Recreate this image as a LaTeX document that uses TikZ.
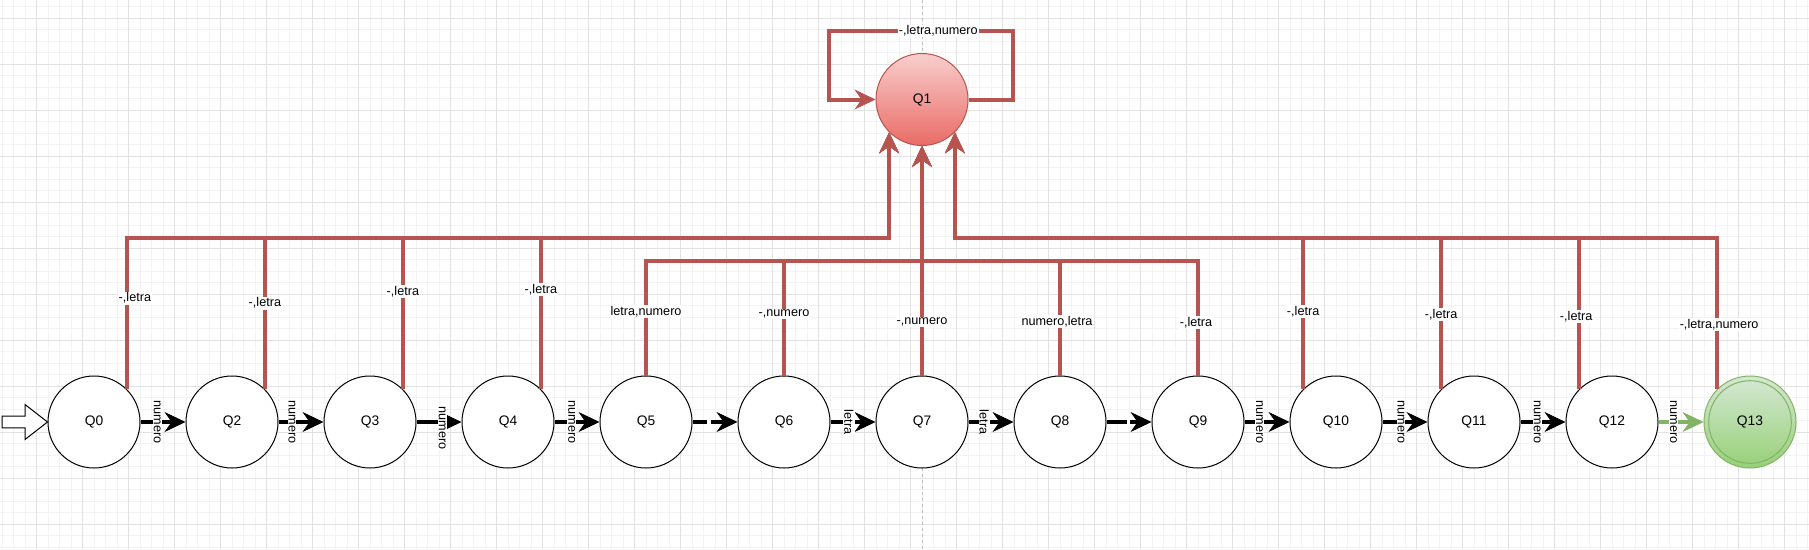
\documentclass[tikz,border=0pt]{standalone}
\usepackage{fontspec}
\setmainfont{Liberation Sans}
\usetikzlibrary{arrows.meta,calc}
\definecolor{redline}{HTML}{B85450}
\definecolor{greenline}{HTML}{82B366}
\definecolor{redtop}{HTML}{F8CECC}
\definecolor{redbot}{HTML}{EA6B66}
\definecolor{greentop}{HTML}{D5E8D4}
\definecolor{greenbot}{HTML}{97D077}
\definecolor{gridminor}{HTML}{F3F3F3}
\definecolor{gridmajor}{HTML}{E2E2E2}
\definecolor{pageline}{HTML}{BDBDBD}
\tikzset{
  st/.style={circle, draw=black, line width=1pt, fill=white, minimum size=92pt, inner sep=0pt,
    font=\fontsize{13.8}{16}\selectfont},
  tip/.style={-{Stealth[length=21pt,width=20pt,inset=7pt,line width=0.8pt]}},
  redge/.style={draw=redline, line width=4pt, tip},
  bedge/.style={draw=black, line width=4pt, tip},
  gedge/.style={draw=greenline, line width=4pt, tip},
  lbl/.style={fill=white, inner sep=1pt, text=black, font=\fontsize{12.65}{14}\selectfont},
  vlbl/.style={lbl, rotate=-90},
  gapbox/.style={fill=white, inner sep=0pt, minimum width=4pt, minimum height=8pt},
  minorline/.style={draw=gridminor, line width=0.8pt},
  majorline/.style={draw=gridmajor, line width=0.8pt},
}
\begin{document}
\begin{tikzpicture}[x=1pt,y=-1pt]
\useasboundingbox (0,0) rectangle (1809,549);
\fill[white] (0,0) rectangle (1809,549);
% grid
\foreach \i in {0,...,157} { \draw[minorline] ({2.1+11.5*\i},0) -- ++(0,549); }
\foreach \j in {0,...,47} { \draw[minorline] (0,{6.8+11.5*\j}) -- ++(1809,0); }
\foreach \i in {0,...,38} { \draw[majorline] ({36.6+46*\i},0) -- ++(0,549); }
\foreach \j in {0,...,11} { \draw[majorline] (0,{18.3+46*\j}) -- ++(1809,0); }
% page break line
\draw[pageline, line width=0.8pt, dash pattern=on 3pt off 3pt] (922,0) -- (922,549);

% states
\node[st] (Q0) at (94,422) {Q0};
\node[st] (Q2) at (232,422) {Q2};
\node[st] (Q3) at (370,422) {Q3};
\node[st] (Q4) at (508,422) {Q4};
\node[st] (Q5) at (646,422) {Q5};
\node[st] (Q6) at (784,422) {Q6};
\node[st] (Q7) at (922,422) {Q7};
\node[st] (Q8) at (1060,422) {Q8};
\node[st] (Q9) at (1198,422) {Q9};
\node[st] (Q10) at (1336,422) {Q10};
\node[st] (Q11) at (1474,422) {Q11};
\node[st] (Q12) at (1612,422) {Q12};
\node[st, draw=greenline, top color=greentop, bottom color=greenbot] (Q13) at (1750,422) {Q13};
\draw[greenline, line width=1pt] (Q13.center) circle (41.3pt);
\node[st, draw=redline, top color=redtop, bottom color=redbot] (Q1) at (922,99.5) {Q1};

% bus coordinates
\coordinate (b1) at (0,237.5);
\coordinate (b2) at (0,260.7);
\coordinate (L1) at (1013,31);
\coordinate (L2) at (829,31);

% initial arrow
\draw[line width=1pt, fill=white, line join=miter]
  (2,416.2) -- (25,416.2) -- (25,404.5) -- (Q0.west) -- (25,439.5) -- (25,427.8) -- (2,427.8) -- cycle;

% chain
\draw[bedge] (Q0) -- node[vlbl,pos=0.37]{numero} (Q2);
\draw[bedge] (Q2) -- node[vlbl,pos=0.30]{numero} (Q3);
\draw[bedge] (Q3) -- (Q4) node[vlbl] at ($(Q3.east)!0.57!(Q4.west)+(0,6)$) {numero};
\draw[bedge] (Q4) -- node[vlbl,pos=0.38]{numero} (Q5);
\draw[bedge] (Q5) -- node[gapbox,pos=0.376]{} (Q6);
\draw[bedge] (Q6) -- node[vlbl,pos=0.41]{letra} (Q7);
\draw[bedge] (Q7) -- node[vlbl,pos=0.35]{letra} (Q8);
\draw[bedge] (Q8) -- node[gapbox,pos=0.485,minimum width=3.5pt]{} (Q9);
\draw[bedge] (Q9) -- node[vlbl,pos=0.33]{numero} (Q10);
\draw[bedge] (Q10) -- node[vlbl,pos=0.41]{numero} (Q11);
\draw[bedge] (Q11) -- node[vlbl,pos=0.37]{numero} (Q12);
\draw[gedge] (Q12) -- node[vlbl,pos=0.33]{numero} (Q13);

% self loop on Q1
\draw[redge] (Q1.east) -| (L1) -- node[lbl,pos=0.406]{-,letra,numero} (L2) |- (Q1.west);

% left group
\draw[redge] (Q0.45) -- node[lbl,pos=0.60,xshift=8pt]{-,letra} (Q0.45 |- b1) -| (Q1.-135);
\draw[redge] (Q2.45) -- node[lbl,pos=0.567]{-,letra} (Q2.45 |- b1) -| (Q1.-135);
\draw[redge] (Q3.45) -- node[lbl,pos=0.643]{-,letra} (Q3.45 |- b1) -| (Q1.-135);
\draw[redge] (Q4.45) -- node[lbl,pos=0.655]{-,letra} (Q4.45 |- b1) -| (Q1.-135);

% middle group
\draw[redge] (Q5.north) -- node[lbl,pos=0.558]{letra,numero} (Q5.north |- b2) -| (Q1.south);
\draw[redge] (Q6.north) -- node[lbl,pos=0.538]{-,numero} (Q6.north |- b2) -| (Q1.south);
\draw[redge] (Q7.north) -- node[lbl,pos=0.234]{-,numero} (Q1.south);
\draw[redge] (Q8.north) -- node[lbl,pos=0.468,xshift=-3pt]{numero,letra} (Q8.north |- b2) -| (Q1.south);
\draw[redge] (Q9.north) -- node[lbl,pos=0.46,xshift=-2pt]{-,letra} (Q9.north |- b2) -| (Q1.south);

% right group
\draw[redge] (Q10.135) -- node[lbl,pos=0.51]{-,letra} (Q10.135 |- b1) -| (Q1.-45);
\draw[redge] (Q11.135) -- node[lbl,pos=0.49]{-,letra} (Q11.135 |- b1) -| (Q1.-45);
\draw[redge] (Q12.135) -- node[lbl,pos=0.477,xshift=-3pt]{-,letra} (Q12.135 |- b1) -| (Q1.-45);
\draw[redge] (Q13.135) -- node[lbl,pos=0.424,xshift=2pt]{-,letra,numero} (Q13.135 |- b1) -| (Q1.-45);
\end{tikzpicture}
\end{document}
